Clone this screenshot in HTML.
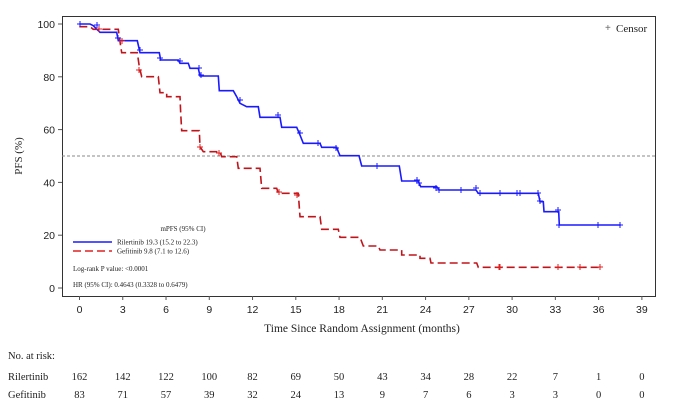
<!DOCTYPE html>
<html><head><meta charset="utf-8"><style>
body{margin:0;background:#fff;width:692px;height:407px;overflow:hidden}
svg{display:block}
.s{font-family:"Liberation Sans",sans-serif;font-size:10.5px;fill:#222}
.r{font-family:"Liberation Serif",serif;fill:#222}
</style></head><body>
<svg width="692" height="407" viewBox="0 0 692 407">
<rect x="62.5" y="16.5" width="593" height="280" fill="none" stroke="#333" stroke-width="1"/>
<line x1="62" y1="156" x2="655" y2="156" stroke="#888" stroke-dasharray="3,2" stroke-width="1"/>
<g stroke="#555" stroke-width="1">
<line x1="58" y1="24" x2="62" y2="24"/><line x1="58" y1="76.8" x2="62" y2="76.8"/><line x1="58" y1="129.6" x2="62" y2="129.6"/><line x1="58" y1="182.4" x2="62" y2="182.4"/><line x1="58" y1="235.2" x2="62" y2="235.2"/><line x1="58" y1="288" x2="62" y2="288"/>
</g>
<g class="s" text-anchor="end">
<text x="55" y="28">100</text><text x="55" y="80.8">80</text><text x="55" y="133.6">60</text><text x="55" y="186.4">40</text><text x="55" y="239.2">20</text><text x="55" y="292">0</text>
</g>
<text class="r" font-size="11" transform="translate(22,156) rotate(-90)" text-anchor="middle">PFS (%)</text>
<g id="xt" stroke="#555" stroke-width="1"></g>
<g class="s" text-anchor="middle" id="xl"></g>
<text class="r" font-size="11.5" x="362" y="332" text-anchor="middle">Time Since Random Assignment (months)</text>
<text class="r" font-size="10.5" x="8" y="359">No. at risk:</text>
<text class="r" font-size="10.5" x="8" y="380">Rilertinib</text>
<text class="r" font-size="10.5" x="8" y="398">Gefitinib</text>
<g class="r" font-size="10.5" text-anchor="middle" id="risk"></g>
<polyline fill="none" stroke="#c0141c" stroke-width="1.6" stroke-dasharray="8,4" points="79.3,26.7 90,26.7 93.3,29.3 118.3,29.3 120,41.7 121.7,52.7 137.3,52.7 139.3,66.7 141.7,76.7 158.3,76.7 160,92.7 166.7,92.7 166.7,96.7 180,96.7 180.7,113.3 181.7,130.7 199.3,130.7 200,146.7 203.3,151.7 220,151.7 221.7,156.7 236.7,156.7 238.3,168.3 260,168.3 261.7,188.3 276.7,188.3 278.3,193.3 298.3,193.3 300,216.7 320,216.7 321.7,229.3 338.3,229.3 340,237.3 360,237.3 363.3,246 378.3,246 380,250 401.7,250 401.7,255 420,255 420,258.3 430,258.3 431,263 476.7,263 478.3,267.3 600.7,267.3"/>
<polyline fill="none" stroke="#1a1aff" stroke-width="1.6" points="79.3,24 90,24 93.3,25.7 100,32.3 116.7,32.3 118.3,40.7 137.3,40.7 140,52.7 159.3,52.7 160.7,60 178.3,60 180,63.3 188.3,63.3 190,68.3 198.3,68.3 200,76 218.3,76 219.3,90.7 233.3,90.7 236.7,96.7 240,103.3 246.7,106.7 258.3,106.7 260,117.3 280,117.3 281.7,127.3 296.7,127.3 300,135 303.3,143.3 320,143.3 321.7,147.3 336.7,147.3 338.3,151.7 340,155.7 359,155.7 361.7,166 399.3,166 401.7,181 418.3,181 420.7,186.7 436.7,186.7 439.3,190 476,190 478.3,193.3 538.3,193.3 540,201.7 543.3,201.7 544,211.7 558.7,211.7 559.3,225 620.7,225"/>
<g id="cb" stroke="#1a1aff" stroke-width="1"></g>
<g id="cr" stroke="#e02020" stroke-width="1"></g>
<text class="r" font-size="7" x="183" y="231" text-anchor="middle">mPFS (95% CI)</text>
<line x1="73" y1="242" x2="112" y2="242" stroke="#1a1aff" stroke-width="1.4"/>
<line x1="73" y1="251" x2="112" y2="251" stroke="#e02020" stroke-width="1.4" stroke-dasharray="8,4"/>
<text class="r" font-size="7" x="117" y="244.5">Rilertinib 19.3 (15.2 to 22.3)</text>
<text class="r" font-size="7" x="117" y="253.5">Gefitinib 9.8 (7.1 to 12.6)</text>
<text class="r" font-size="7" x="73" y="271">Log-rank P value: &lt;0.0001</text>
<text class="r" font-size="7" x="73" y="287">HR (95% CI): 0.4643 (0.3328 to 0.6479)</text>
<text x="605" y="31" font-family="Liberation Sans,sans-serif" font-size="10" fill="#666">+</text>
<text class="r" font-size="11" x="616" y="32">Censor</text>
</svg>
<script>
var ns="http://www.w3.org/2000/svg";
function el(p,t,a,txt){var e=document.createElementNS(ns,t);for(var k in a)e.setAttribute(k,a[k]);if(txt!==undefined)e.textContent=txt;document.getElementById(p).appendChild(e);}
var ri=[162,142,122,100,82,69,50,43,34,28,22,7,1,0],ge=[83,71,57,39,32,24,13,9,7,6,3,3,0,0];
for(var i=0;i<14;i++){var x=79.5+i*3*14.42;
el("xt","line",{x1:x,y1:296,x2:x,y2:300});
el("xl","text",{x:x,y:313},String(i*3));
el("risk","text",{x:x,y:380},String(ri[i]));
el("risk","text",{x:x,y:398},String(ge[i]));}
function c(g,x,y){el(g,"line",{x1:x-3,y1:y,x2:x+3,y2:y});el(g,"line",{x1:x,y1:y-3,x2:x,y2:y+3});}
[[80,24],[97,25],[118,38],[140,50],[160,58],[180,61],[199,68],[201,75],[240,100],[278,115],[300,133],[318,143],[336,148],[377,166],[417,180],[419,183],[436,188],[439,190],[461,190],[476,188],[480,193],[500,193],[517,193],[520,193],[538,193],[540,201],[558,210],[559,225],[598,225],[620,225]].forEach(function(p){c("cb",p[0],p[1]);});
[[99,29],[122,41],[139,70],[200,147],[219,153],[279,192],[297,195],[499,267],[500,267],[558,267],[580,267],[600,267]].forEach(function(p){c("cr",p[0],p[1]);});
</script>
</body></html>
